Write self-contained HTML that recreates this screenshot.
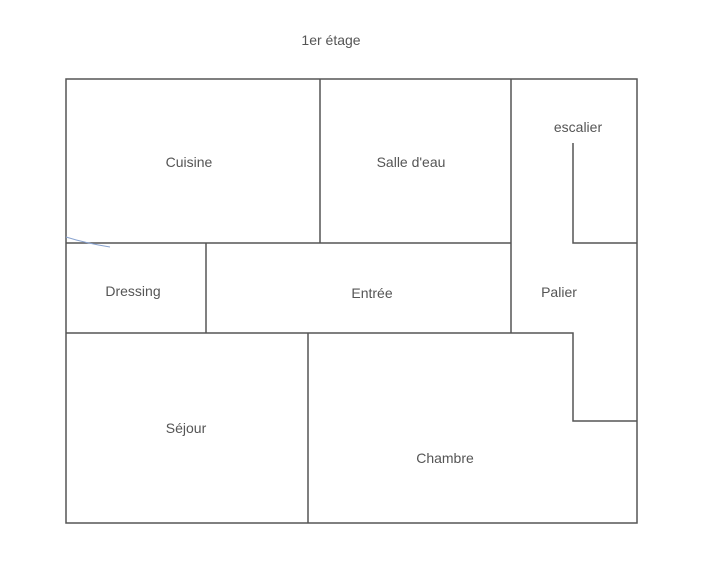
<!DOCTYPE html>
<html><head><meta charset="utf-8"><style>
body{margin:0;background:#fff;width:705px;height:575px;overflow:hidden}
</style></head><body>
<svg width="705" height="575" xmlns="http://www.w3.org/2000/svg" style="position:absolute;left:0;top:0">
<g stroke="#555" stroke-width="1.5" fill="none">
<rect x="66" y="79" width="571" height="444"/>
<line x1="320" y1="79" x2="320" y2="243"/>
<line x1="66" y1="243" x2="511" y2="243"/>
<line x1="511" y1="79" x2="511" y2="333"/>
<polyline points="573,143 573,243 637,243"/>
<line x1="206" y1="243" x2="206" y2="333"/>
<polyline points="66,333 573,333 573,421 637,421"/>
<line x1="308" y1="333" x2="308" y2="523"/>
</g>
<path d="M66 237 Q85 243 110 247" stroke="#8aa4d0" stroke-width="1" fill="none"/>
<g font-family="Liberation Sans, sans-serif" font-size="14" fill="#555" text-anchor="middle">
<text x="331" y="45">1er étage</text>
<text x="189" y="167">Cuisine</text>
<text x="411" y="167">Salle d'eau</text>
<text x="578" y="132">escalier</text>
<text x="133" y="296">Dressing</text>
<text x="372" y="298">Entrée</text>
<text x="559" y="297">Palier</text>
<text x="186" y="433">Séjour</text>
<text x="445" y="463">Chambre</text>
</g>
</svg>
</body></html>
